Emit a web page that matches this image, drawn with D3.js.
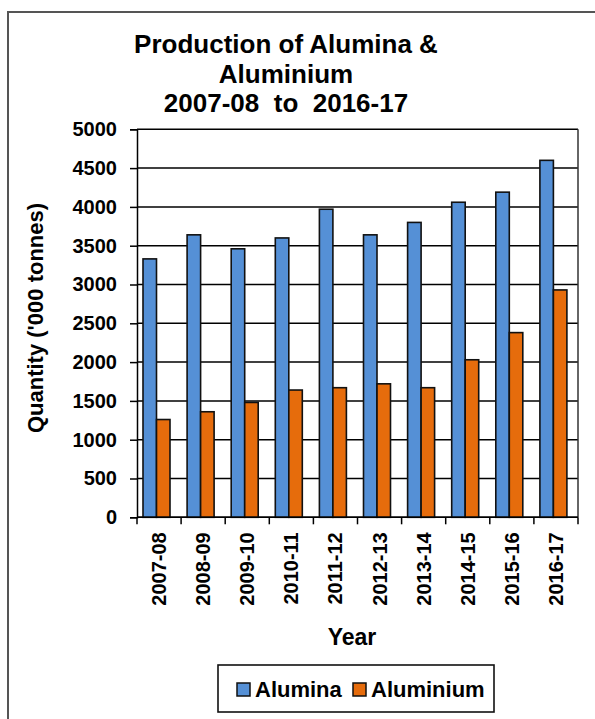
<!DOCTYPE html>
<html>
<head>
<meta charset="utf-8">
<script src="https://cdn.jsdelivr.net/npm/d3@7"></script>
<style>
  html, body { margin: 0; padding: 0; background: #fff; }
  svg { display: block; }
  text { font-family: "Liberation Sans", Arial, sans-serif; font-weight: bold; fill: #000; }
</style>
</head>
<body>
<svg id="chart" width="595" height="719"></svg>
<script>
const years = ["2007-08","2008-09","2009-10","2010-11","2011-12","2012-13","2013-14","2014-15","2015-16","2016-17"];
const seriesNames = ["Alumina", "Aluminium"];
const alumina = [3330, 3640, 3460, 3600, 3970, 3640, 3800, 4060, 4190, 4600];
const aluminium = [1260, 1360, 1480, 1640, 1670, 1720, 1670, 2030, 2380, 2930];
const yTicks = [0, 500, 1000, 1500, 2000, 2500, 3000, 3500, 4000, 4500, 5000];
const titleLines = ["Production of Alumina &", "Aluminium", "2007-08  to  2016-17"];
const colors = ["#5590D6", "#E66C0C"];

const svg = d3.select("#chart");

// outer chart border
svg.append("rect").attr("x", 8).attr("y", 12).attr("width", 600).attr("height", 720)
  .attr("fill", "#fff").attr("stroke", "#555").attr("stroke-width", 2);

const plot = {left: 137, right: 578, top: 129.3, bottom: 517.3};

const x = d3.scaleBand().domain(years).range([plot.left, plot.right]).paddingInner(0).paddingOuter(0);
const xs = d3.scaleBand().domain(seriesNames).range([6, 33]).padding(0);
const y = d3.scaleLinear().domain([0, 5000]).range([plot.bottom, plot.top]);

// gridlines
svg.append("g").selectAll("line").data(yTicks).join("line")
  .attr("x1", plot.left).attr("x2", plot.right)
  .attr("y1", d => y(d)).attr("y2", d => y(d))
  .attr("stroke", "#000").attr("stroke-width", 1.5);

// plot border right
svg.append("line").attr("x1", plot.right).attr("x2", plot.right)
  .attr("y1", plot.top).attr("y2", plot.bottom).attr("stroke", "#333").attr("stroke-width", 1.5);

// bars
const data = years.map((yr, i) => ({year: yr, values: [alumina[i], aluminium[i]]}));
const groups = svg.append("g").selectAll("g").data(data).join("g")
  .attr("transform", d => `translate(${x(d.year)},0)`);
groups.selectAll("rect").data(d => d.values.map((v, j) => ({name: seriesNames[j], v, j}))).join("rect")
  .attr("x", d => xs(d.name))
  .attr("width", xs.bandwidth())
  .attr("y", d => y(d.v))
  .attr("height", d => y(0) - y(d.v))
  .attr("fill", d => colors[d.j])
  .attr("stroke", "#111").attr("stroke-width", 1.6);

// y axis
const yAxis = d3.axisLeft(y).tickValues(yTicks).tickFormat(d3.format("d")).tickSize(7).tickPadding(13);
const gy = svg.append("g").attr("transform", `translate(${plot.left},0)`).call(yAxis);
gy.select(".domain").attr("stroke", "#000").attr("stroke-width", 1.5);
gy.selectAll(".tick line").attr("stroke", "#000").attr("stroke-width", 1.5);
gy.selectAll(".tick text").style("font-size", "20px").style("font-family", "'Liberation Sans', Arial, sans-serif").style("font-weight", "bold").attr("fill", "#000");

// x axis with ticks at category boundaries
const gx = svg.append("g").attr("transform", `translate(0,${plot.bottom})`);
gx.append("line").attr("x1", plot.left).attr("x2", plot.right).attr("stroke", "#000").attr("stroke-width", 1.5);
const boundaries = years.map(d => x(d)).concat([plot.right]);
gx.selectAll("line.tk").data(boundaries).join("line").attr("class", "tk")
  .attr("x1", d => d).attr("x2", d => d).attr("y1", 0).attr("y2", 7)
  .attr("stroke", "#000").attr("stroke-width", 1.5);
gx.selectAll("text").data(years).join("text")
  .attr("transform", d => `translate(${x(d) + x.bandwidth() / 2},15) rotate(-90)`)
  .attr("text-anchor", "end").attr("dominant-baseline", "central")
  .style("font-size", "20px")
  .text(d => d);

// title
svg.append("text").attr("x", 286).attr("y", 53).attr("text-anchor", "middle")
  .style("font-size", "26px")
  .selectAll("tspan").data(titleLines).join("tspan")
  .attr("x", 286).attr("dy", (d, i) => i === 0 ? 0 : 29.5)
  .attr("xml:space", "preserve")
  .text(d => d);

// axis titles
svg.append("text").attr("transform", "translate(43,318) rotate(-90)")
  .attr("text-anchor", "middle").style("font-size", "22px")
  .text("Quantity ('000 tonnes)");
svg.append("text").attr("x", 352).attr("y", 645).attr("text-anchor", "middle")
  .style("font-size", "23px").text("Year");

// legend
const lg = svg.append("g");
lg.append("rect").attr("x", 218).attr("y", 665).attr("width", 276).attr("height", 47)
  .attr("fill", "#fff").attr("stroke", "#111").attr("stroke-width", 1.6);
const legendX = [237, 353];
const li = lg.selectAll("g").data(seriesNames).join("g")
  .attr("transform", (d, i) => `translate(${legendX[i]},683)`);
li.append("rect").attr("width", 13).attr("height", 13)
  .attr("fill", (d, i) => colors[i]).attr("stroke", "#111").attr("stroke-width", 1.5);
li.append("text").attr("x", 18).attr("y", 14).style("font-size", "22px").text(d => d);
</script>
</body>
</html>
